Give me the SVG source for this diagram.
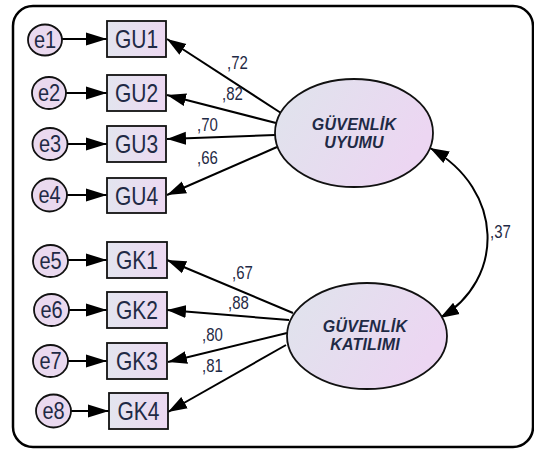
<svg xmlns="http://www.w3.org/2000/svg" width="534" height="450" viewBox="0 0 534 450">
  <defs>
    <linearGradient id="boxFill" x1="0" y1="0" x2="1" y2="0">
      <stop offset="0" stop-color="#e3e5ef"/>
      <stop offset="1" stop-color="#ecd8f1"/>
    </linearGradient>
    <linearGradient id="latFill" x1="0" y1="0" x2="1" y2="0.4">
      <stop offset="0" stop-color="#dfe4ec"/>
      <stop offset="1" stop-color="#ecd6f2"/>
    </linearGradient>
    <marker id="head" markerUnits="userSpaceOnUse" markerWidth="20" markerHeight="14" refX="19" refY="7" orient="auto-start-reverse">
      <path d="M0,0.5 L19,7 L0,13.5 z" fill="#000"/>
    </marker>
    <marker id="headErr" markerUnits="userSpaceOnUse" markerWidth="22" markerHeight="14" refX="21" refY="7" orient="auto">
      <path d="M0,0.5 L21,7 L0,13.5 z" fill="#000"/>
    </marker>
  </defs>
  <style>
    .frame { fill: #fff; stroke: #000; stroke-width: 2.5; }
    .err { fill: #ead9ef; stroke: #111; stroke-width: 1.8; }
    .box { fill: url(#boxFill); stroke: #111; stroke-width: 1.8; }
    .lat { fill: url(#latFill); stroke: #111; stroke-width: 1.8; }
    .lbl { font-family: "Liberation Sans", Arial, sans-serif; fill: #1f2a45; text-anchor: middle; }
    .etx { font-size: 20px; }
    .btx { font-size: 21px; }
    .ltx { font-size: 16px; font-weight: bold; font-style: italic; letter-spacing: 0.2px; }
    .coef { font-family: "Liberation Sans", Arial, sans-serif; font-size: 15px; fill: #1f2a45; }
    .edge { fill: none; stroke: #000; stroke-width: 2; marker-end: url(#head); }
    .eedge { fill: none; stroke: #000; stroke-width: 2; marker-end: url(#headErr); }
    .cov { fill: none; stroke: #000; stroke-width: 2; marker-start: url(#head); marker-end: url(#head); }
  </style>

  <rect class="frame" x="13" y="6" width="520" height="441" rx="20" ry="20"/>

  <!-- connectors -->
  <g id="connectors">
    <!-- error terms to indicators -->
    <line class="eedge" x1="62" y1="39" x2="107" y2="39"/>
    <line class="eedge" x1="66" y1="93" x2="107" y2="93"/>
    <line class="eedge" x1="68" y1="144" x2="107" y2="144"/>
    <line class="eedge" x1="67" y1="195" x2="107" y2="195"/>
    <line class="eedge" x1="68" y1="260" x2="107" y2="260"/>
    <line class="eedge" x1="69" y1="310" x2="107" y2="310"/>
    <line class="eedge" x1="68" y1="361" x2="107" y2="361"/>
    <line class="eedge" x1="71" y1="411" x2="109" y2="411"/>
    <!-- factor loadings -->
    <line class="edge" x1="281" y1="113" x2="167" y2="39"/>
    <line class="edge" x1="276" y1="123" x2="167" y2="95"/>
    <line class="edge" x1="275" y1="135" x2="167" y2="139"/>
    <line class="edge" x1="277" y1="147" x2="167" y2="195"/>
    <line class="edge" x1="293" y1="313" x2="167" y2="260"/>
    <line class="edge" x1="289" y1="320" x2="167" y2="310"/>
    <line class="edge" x1="287" y1="333" x2="168" y2="362"/>
    <line class="edge" x1="286" y1="345" x2="168" y2="412"/>
    <!-- factor covariance -->
    <path class="cov" d="M430,148 C505,190 505,280 440,318"/>
    <!-- coefficients (glyphs drawn slightly tall) -->
    <text class="coef" transform="translate(227,69) scale(1,1.2)">,72</text>
    <text class="coef" transform="translate(222,100) scale(1,1.2)">,82</text>
    <text class="coef" transform="translate(197,131) scale(1,1.2)">,70</text>
    <text class="coef" transform="translate(197,164) scale(1,1.2)">,66</text>
    <text class="coef" transform="translate(232,279) scale(1,1.2)">,67</text>
    <text class="coef" transform="translate(228,309) scale(1,1.2)">,88</text>
    <text class="coef" transform="translate(202,341) scale(1,1.2)">,80</text>
    <text class="coef" transform="translate(202,372) scale(1,1.2)">,81</text>
    <text class="coef" transform="translate(490,238) scale(1,1.2)">,37</text>
  </g>

  <!-- error terms -->
  <g id="e1"><ellipse class="err" cx="45" cy="40" rx="17" ry="15.5"/><text class="lbl etx" transform="translate(45,47.5) scale(1,1.15)">e1</text></g>
  <g id="e2"><ellipse class="err" cx="49" cy="93" rx="17" ry="16"/><text class="lbl etx" transform="translate(49,100.5) scale(1,1.15)">e2</text></g>
  <g id="e3"><ellipse class="err" cx="50" cy="144" rx="17.5" ry="16"/><text class="lbl etx" transform="translate(50,151.5) scale(1,1.15)">e3</text></g>
  <g id="e4"><ellipse class="err" cx="49.5" cy="195" rx="17.5" ry="16.5"/><text class="lbl etx" transform="translate(49.5,202.5) scale(1,1.15)">e4</text></g>
  <g id="e5"><ellipse class="err" cx="50.5" cy="261" rx="17.5" ry="16"/><text class="lbl etx" transform="translate(50.5,268.5) scale(1,1.15)">e5</text></g>
  <g id="e6"><ellipse class="err" cx="51.5" cy="310" rx="17.5" ry="16"/><text class="lbl etx" transform="translate(51.5,317.5) scale(1,1.15)">e6</text></g>
  <g id="e7"><ellipse class="err" cx="50.5" cy="361" rx="17.5" ry="16"/><text class="lbl etx" transform="translate(50.5,368.5) scale(1,1.15)">e7</text></g>
  <g id="e8"><ellipse class="err" cx="53.5" cy="411" rx="17.5" ry="16.5"/><text class="lbl etx" transform="translate(53.5,418.5) scale(1,1.15)">e8</text></g>

  <!-- observed indicators -->
  <g id="GU1"><rect class="box" x="107" y="21" width="59" height="36"/><text class="lbl btx" transform="translate(136.5,48) scale(1,1.2)">GU1</text></g>
  <g id="GU2"><rect class="box" x="107" y="75" width="59" height="36"/><text class="lbl btx" transform="translate(136.5,102) scale(1,1.2)">GU2</text></g>
  <g id="GU3"><rect class="box" x="107" y="126" width="59" height="36"/><text class="lbl btx" transform="translate(136.5,153) scale(1,1.2)">GU3</text></g>
  <g id="GU4"><rect class="box" x="107" y="178" width="59" height="35"/><text class="lbl btx" transform="translate(136.5,204.5) scale(1,1.2)">GU4</text></g>
  <g id="GK1"><rect class="box" x="107" y="242" width="60" height="36"/><text class="lbl btx" transform="translate(137,269) scale(1,1.2)">GK1</text></g>
  <g id="GK2"><rect class="box" x="107" y="292" width="60" height="36"/><text class="lbl btx" transform="translate(137,319) scale(1,1.2)">GK2</text></g>
  <g id="GK3"><rect class="box" x="107" y="343" width="60" height="36"/><text class="lbl btx" transform="translate(137,370) scale(1,1.2)">GK3</text></g>
  <g id="GK4"><rect class="box" x="109" y="393" width="59" height="36"/><text class="lbl btx" transform="translate(138.5,420) scale(1,1.2)">GK4</text></g>

  <!-- latent factors -->
  <g id="guvenlik-uyumu">
    <ellipse class="lat" cx="354" cy="133" rx="79" ry="54"/>
    <text class="lbl ltx" x="354" y="130">GÜVENLİK</text>
    <text class="lbl ltx" x="354" y="148">UYUMU</text>
  </g>
  <g id="guvenlik-katilimi">
    <ellipse class="lat" cx="367" cy="336" rx="80" ry="53"/>
    <text class="lbl ltx" x="365" y="332">GÜVENLİK</text>
    <text class="lbl ltx" x="365" y="350">KATILIMI</text>
  </g>
</svg>
